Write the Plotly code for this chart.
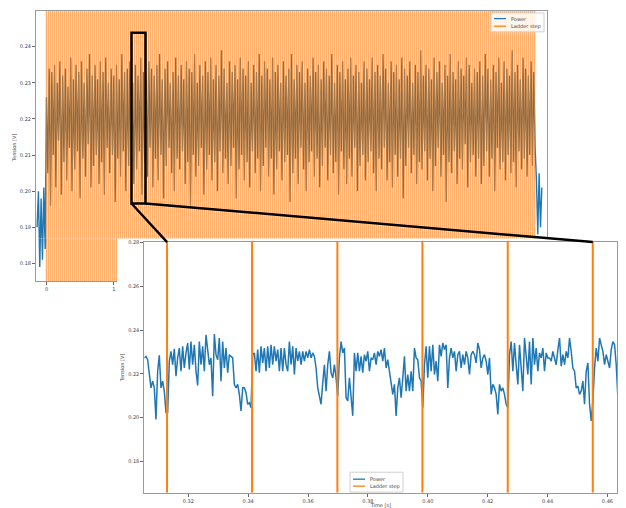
import numpy as np
import plotly.graph_objects as go

W, H = 626, 508

# ---------------- data ----------------
# Main recording: uniformly sampled power signal (mV)
MAIN_T_START = -0.14
MAIN_T_STEP = 0.02
MAIN_POWER_MV = [
    190, 200, 179, 198, 181, 201, 184,
    226, 205, 234, 196, 233, 210, 235, 201, 230, 214, 236, 199, 232, 208, 234, 203, 229, 212, 237, 200,
    231, 206, 235, 211, 233, 198, 236, 209, 230, 204, 234, 213, 238, 201, 232, 207, 235, 210, 231, 202,
    236, 208, 233, 199, 237, 212, 230, 205, 234, 210, 232, 197, 235, 209, 231, 204, 238, 211, 233, 200,
    234, 207, 236, 213, 230, 202, 235, 206, 232, 211, 237, 199, 233, 208, 231, 204, 236, 212, 234, 201,
    232, 209, 235, 203, 238, 210, 231, 198, 234, 207, 236, 212, 230, 205, 233, 200, 237, 209, 232, 206,
    235, 211, 231, 202, 236, 208, 234, 196, 233, 210, 238, 204, 230, 207, 235, 212, 232, 199, 236, 206,
    233, 210, 237, 203, 231, 208, 235, 200, 232, 211, 239, 205, 234, 209, 230, 202, 236, 207, 233, 212,
    235, 198, 231, 206, 237, 210, 234, 203, 232, 208, 236, 201, 230, 211, 235, 205, 233, 209, 238, 200,
    232, 207, 236, 212, 234, 204, 231, 209, 237, 199, 233, 206, 235, 211, 230, 203, 236, 208, 232, 210,
    234, 197, 238, 205, 231, 209, 235, 202, 233, 212, 236, 206, 230, 200, 234, 208, 232, 211, 237, 204,
    233, 209, 235, 201, 231, 207, 236, 212, 234, 203, 232, 210, 238, 205, 230, 208, 235, 199, 233, 211,
    236, 206, 231, 202, 234, 209, 237, 204, 232, 212, 235, 200, 233, 207, 230, 210, 236, 203, 234, 208,
    231, 211, 237, 205, 233, 200, 235, 209, 232, 206, 238, 212, 234, 203, 230, 208, 236, 201, 233, 210,
    235, 204, 231, 209, 237, 198, 234, 207, 232, 212, 236, 205, 230, 210, 235, 202, 233, 208, 239, 206,
    232, 211, 235, 203, 234, 209, 231, 200, 237, 207, 233, 212, 236, 204, 230, 210, 235, 197, 232, 208,
    238, 205, 233, 211, 231, 202, 236, 209, 234, 206, 232, 213, 237, 201, 235, 208, 230, 210, 234, 204,
    233, 209, 236, 202, 232, 207, 238, 211, 234, 204, 231, 209, 235, 200, 233, 212, 237, 206, 230, 208,
    236, 203, 234, 210, 232, 205, 239, 208, 233, 201, 235, 211, 231, 206, 237, 209, 234, 204, 232, 210,
    236, 207, 233, 212,
    203, 188, 205, 190, 201,
]
# Ladder steps of the main recording (regular clock)
MAIN_STEP_FIRST = 0.0
MAIN_STEP_PERIOD = 0.02972
MAIN_STEP_COUNT = 245

# Zoomed window: uniformly sampled power signal (mV)
INSET_T_START = 0.3053
INSET_T_END = 0.4635
INSET_POWER_MV = [
    227.3, 228.0, 226.5, 219.7, 213.6, 216.7, 213.6, 199.2, 221.2, 228.5,
    213.6, 216.7, 212.1, 202.3, 202.3, 225.8, 230.3, 224.2, 231.5, 218.9,
    227.3, 231.8, 221.2, 232.6, 222.7, 229.6, 234.1, 222.0, 234.8, 224.2,
    233.3, 221.2, 214.7, 234.8, 224.2, 232.6, 221.2, 237.9, 230.3, 224.2,
    227.3, 209.8, 238.2, 228.8, 226.5, 236.4, 216.7, 234.8, 222.7, 231.8,
    220.5, 228.8, 228.0, 227.3, 215.2, 213.6, 215.2, 210.6, 203.0, 213.6,
    213.6, 211.4, 206.1, 206.8, 204.5, 228.8, 229.6, 221.2, 231.1, 220.5,
    232.6, 225.0, 231.8, 221.2, 232.6, 222.7, 233.3, 224.2, 232.6, 225.8,
    231.1, 221.2, 231.8, 221.2, 231.8, 224.2, 221.2, 234.8, 224.2, 232.6,
    219.7, 231.8, 225.8, 230.3, 224.2, 230.3, 225.8, 230.3, 227.3, 231.1,
    227.3, 229.6, 228.0, 222.7, 213.6, 209.8, 206.1, 215.9, 224.2, 212.1,
    224.2, 230.3, 220.5, 218.2, 224.2, 218.2, 209.8, 227.3, 234.8, 229.6,
    231.8, 209.1, 207.6, 218.2, 209.1, 200.8, 229.6, 221.2, 229.6, 221.2,
    228.0, 220.5, 228.8, 225.8, 230.3, 221.2, 227.3, 226.5, 229.6, 224.2,
    230.3, 228.0, 231.1, 225.8, 231.8, 222.7, 226.5, 219.7, 215.9, 210.6,
    215.2, 200.8, 213.6, 218.2, 209.1, 218.2, 228.0, 212.1, 219.7, 212.1,
    221.2, 212.1, 231.8, 227.3, 226.5, 218.2, 216.7, 204.5, 224.2, 232.6,
    218.2, 232.6, 221.2, 233.3, 219.7, 225.8, 216.7, 233.3, 228.0, 234.1,
    231.1, 233.3, 213.6, 227.3, 231.8, 227.3, 230.3, 221.2, 228.8, 230.3,
    222.7, 228.8, 224.2, 230.3, 227.3, 219.7, 228.8, 230.3, 228.8, 225.0,
    234.1, 231.1, 222.7, 227.3, 228.8, 225.8, 219.7, 227.3, 210.6, 215.2,
    213.6, 210.6, 201.5, 215.2, 212.1, 213.6, 210.6, 206.1, 204.5, 228.8,
    234.8, 221.2, 234.1, 224.2, 215.2, 233.3, 224.2, 212.1, 236.4, 227.3,
    219.7, 234.8, 215.2, 236.4, 224.2, 231.8, 221.2, 229.6, 227.3, 231.8,
    221.2, 229.6, 227.3, 227.3, 225.8, 230.3, 227.3, 224.2, 231.1, 236.4,
    223.5, 228.8, 224.2, 230.3, 227.3, 236.4, 230.3, 222.7, 221.2, 213.6,
    214.4, 210.6, 212.1, 216.7, 206.1, 221.2, 225.0, 206.1, 198.5, 207.6,
    222.7, 231.8, 225.8, 236.4, 233.3, 230.3, 224.2, 228.8, 225.8, 222.7,
    231.1, 234.8, 233.3, 224.2, 209.1,
]
INSET_STEPS = [0.3129, 0.3413, 0.3698, 0.3982, 0.4267, 0.4551]

MAIN_XTICKS = [0, 1]
MAIN_YTICKS = [0.18, 0.19, 0.20, 0.21, 0.22, 0.23, 0.24]
INSET_XTICKS = [0.32, 0.34, 0.36, 0.38, 0.40, 0.42, 0.44, 0.46]
INSET_YTICKS = [0.18, 0.20, 0.22, 0.24, 0.26, 0.28]

SERIES_NAMES = ["Power", "Ladder step"]

# zoomed region marked on the main plot (s, V)
ZOOM_BOX = dict(t0=1.263, t1=1.471, v0=0.1966, v1=0.2439)

# ---------------- layout geometry (pixels) ----------------
MAIN_L, MAIN_R, MAIN_T, MAIN_B = 36.0, 547.0, 8.0, 280.0
CUT_X, CUT_Y = 117.0, 237.0
INS_L, INS_R, INS_T, INS_B = 144.3, 617.3, 240.5, 492.7

MAIN_XR = [-0.15602, 7.4368]
MAIN_YR = [0.17504, 0.24991]
INS_XR = [0.3053, 0.4633]
INS_YR = [0.1656, 0.2803]

BLUE = "#1f77b4"
ORANGE = "#ff7f0e"
FRAME = "#9a9a9a"
TXT = "#444444"
FONT = "DejaVu Sans"
FS = 5


def fx(px):
    return px / W


def fy(py):
    return 1 - py / H


def lerp_range(rng, a, b, p):
    return rng[0] + (p - a) / (b - a) * (rng[1] - rng[0])


cut_xval = lerp_range(MAIN_XR, MAIN_L, MAIN_R, CUT_X)
cut_yval = MAIN_YR[1] + (CUT_Y - MAIN_T) / (MAIN_B - MAIN_T) * (MAIN_YR[0] - MAIN_YR[1])

dom_ax = [fx(MAIN_L), fx(MAIN_R)]
dom_ay = [fy(CUT_Y), fy(MAIN_T)]
dom_bx = [fx(MAIN_L), fx(CUT_X)]
dom_by = [fy(MAIN_B), fy(CUT_Y)]
dom_ix = [fx(INS_L), fx(INS_R)]
dom_iy = [fy(INS_B), fy(INS_T)]

rng_ay = [cut_yval, MAIN_YR[1]]
rng_bx = [MAIN_XR[0], cut_xval]
rng_by = [MAIN_YR[0], cut_yval]

# ---------------- series ----------------
main_t = MAIN_T_START + MAIN_T_STEP * np.arange(len(MAIN_POWER_MV))
main_v = np.array(MAIN_POWER_MV) / 1000.0
main_steps = MAIN_STEP_FIRST + MAIN_STEP_PERIOD * np.arange(MAIN_STEP_COUNT)

inset_t = np.linspace(INSET_T_START, INSET_T_END, len(INSET_POWER_MV))
inset_v = np.array(INSET_POWER_MV) / 1000.0


def vlines(xs, lo, hi):
    X, Y = [], []
    for x in xs:
        X += [x, x, None]
        Y += [lo, hi, None]
    return X, Y


mx, my = vlines(main_steps, MAIN_YR[0], MAIN_YR[1])
ix, iy = vlines(INSET_STEPS, INS_YR[0], INS_YR[1])

fig = go.Figure()
for xa, ya in (("x", "y"), ("x2", "y2")):
    fig.add_trace(go.Scatter(x=main_t, y=main_v, mode="lines", xaxis=xa, yaxis=ya,
                             line=dict(color=BLUE, width=1.4), name=SERIES_NAMES[0],
                             showlegend=False, hoverinfo="skip"))
    fig.add_trace(go.Scatter(x=mx, y=my, mode="lines", xaxis=xa, yaxis=ya, opacity=0.62,
                             line=dict(color=ORANGE, width=1.5), name=SERIES_NAMES[1],
                             showlegend=False, hoverinfo="skip"))

fig.add_trace(go.Scatter(x=inset_t, y=inset_v, mode="lines", xaxis="x3", yaxis="y3",
                         line=dict(color=BLUE, width=1.5), name=SERIES_NAMES[0],
                         showlegend=False, hoverinfo="skip"))
fig.add_trace(go.Scatter(x=ix, y=iy, mode="lines", xaxis="x3", yaxis="y3",
                         line=dict(color=ORANGE, width=2), name=SERIES_NAMES[1],
                         showlegend=False, hoverinfo="skip"))

tickfont = dict(family=FONT, size=FS, color=TXT)
common = dict(showgrid=False, zeroline=False, showline=True, linecolor=FRAME, linewidth=1,
              tickfont=tickfont, tickcolor="#666", ticklen=3, tickwidth=1)


def fmt(v):
    return ("%.2f" % v)


fig.update_layout(
    width=W, height=H, margin=dict(l=0, r=0, t=0, b=0), autosize=False,
    paper_bgcolor="white", plot_bgcolor="white", showlegend=False,
    font=dict(family=FONT, size=FS, color=TXT),
    xaxis=dict(domain=dom_ax, range=MAIN_XR, anchor="y", side="top", ticks="",
               showticklabels=False, **common),
    yaxis=dict(domain=dom_ay, range=rng_ay, anchor="x", mirror=True, ticks="outside",
               tickvals=MAIN_YTICKS, ticktext=[fmt(v) for v in MAIN_YTICKS], **common),
    xaxis2=dict(domain=dom_bx, range=rng_bx, anchor="y2", ticks="outside",
                tickvals=MAIN_XTICKS, ticktext=[str(v) for v in MAIN_XTICKS], **common),
    yaxis2=dict(domain=dom_by, range=rng_by, anchor="x2", ticks="outside",
                tickvals=MAIN_YTICKS, ticktext=[fmt(v) for v in MAIN_YTICKS], **common),
    xaxis3=dict(domain=dom_ix, range=INS_XR, anchor="y3", mirror=True, ticks="outside",
                tickvals=INSET_XTICKS, ticktext=[fmt(v) for v in INSET_XTICKS],
                title=dict(text="Time [s]", font=tickfont, standoff=1), **common),
    yaxis3=dict(domain=dom_iy, range=INS_YR, anchor="x3", mirror=True, ticks="outside",
                tickvals=INSET_YTICKS, ticktext=[fmt(v) for v in INSET_YTICKS],
                title=dict(text="Tension [V]", font=tickfont, standoff=3), **common),
)


def to_px(v, rng, dom):
    return dom[0] + (v - rng[0]) / (rng[1] - rng[0]) * (dom[1] - dom[0])


shapes = []
# zoom rectangle on main plot
shapes.append(dict(type="rect", xref="x", yref="y", x0=ZOOM_BOX["t0"], x1=ZOOM_BOX["t1"],
                   y0=ZOOM_BOX["v0"], y1=ZOOM_BOX["v1"], line=dict(color="black", width=2.5),
                   layer="above"))
# connectors
bx0 = to_px(ZOOM_BOX["t0"], MAIN_XR, dom_ax)
bx1 = to_px(ZOOM_BOX["t1"], MAIN_XR, dom_ax)
by0 = to_px(ZOOM_BOX["v0"], rng_ay, dom_ay)
ex0 = to_px(INSET_STEPS[0], INS_XR, dom_ix)
ex1 = to_px(INSET_STEPS[-1], INS_XR, dom_ix)
ey = dom_iy[1]
for sx, exx in ((bx0, ex0), (bx1, ex1)):
    shapes.append(dict(type="line", xref="paper", yref="paper", x0=sx, y0=by0, x1=exx, y1=ey,
                       line=dict(color="black", width=2.5), layer="above"))

annotations = []
# main y-axis label
annotations.append(dict(text="Tension [V]", x=fx(14), y=fy(146), xref="paper", yref="paper",
                        textangle=-90, showarrow=False, font=tickfont,
                        xanchor="center", yanchor="middle"))


def add_legend(x0, y0, x1, y1, rows):
    shapes.append(dict(type="rect", xref="paper", yref="paper", x0=fx(x0), x1=fx(x1),
                       y0=fy(y1), y1=fy(y0), fillcolor="rgba(255,255,255,0.85)",
                       line=dict(color="#d0d0d0", width=1), layer="above"))
    for (ly, color, label) in rows:
        shapes.append(dict(type="line", xref="paper", yref="paper", x0=fx(x0 + 3), x1=fx(x0 + 15),
                           y0=fy(ly), y1=fy(ly), line=dict(color=color, width=1.3), layer="above"))
        annotations.append(dict(text=label, x=fx(x0 + 18), y=fy(ly), xref="paper", yref="paper",
                                showarrow=False, xanchor="left", yanchor="middle", font=tickfont))


add_legend(491, 10, 544, 29, [(15.7, BLUE, SERIES_NAMES[0]), (23.3, ORANGE, SERIES_NAMES[1])])
add_legend(350, 472, 403, 492, [(479, BLUE, SERIES_NAMES[0]), (486, ORANGE, SERIES_NAMES[1])])

fig.update_layout(shapes=shapes, annotations=annotations)
fig.write_html("out.html", config={"displayModeBar": False},
               post_script="document.body.style.margin='0';document.body.style.overflow='hidden';")
